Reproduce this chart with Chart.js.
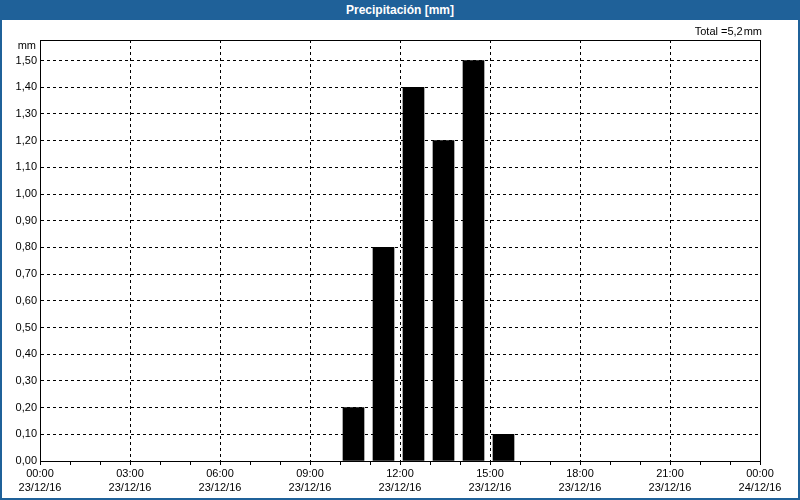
<!DOCTYPE html>
<html>
<head>
<meta charset="utf-8">
<script src="https://cdn.jsdelivr.net/npm/chart.js@4.4.1/dist/chart.umd.min.js"></script>
<style>
  html,body{margin:0;padding:0;background:#fff;}
  body{width:800px;height:500px;overflow:hidden;font-family:"Liberation Sans",Arial,sans-serif;}
  .win{position:absolute;left:0;top:0;width:796px;height:498px;border:2px solid #1f6199;border-top:none;background:#fff;}
  .bar{position:absolute;left:-2px;top:0;width:800px;height:20px;background:#1f6199;color:#fff;
       font:bold 12px "Liberation Sans",Arial,sans-serif;text-align:center;line-height:21px;}
  .wrap{position:absolute;left:0;top:20px;width:796px;height:478px;}
  .total{position:absolute;right:36px;top:25px;font-size:11px;color:#000;}
  .unit{position:absolute;right:762px;top:39px;font-size:11px;color:#000;}
</style>
</head>
<body>
<div class="win">
  <div class="bar">Precipitación [mm]</div>
  <div class="wrap"><canvas id="c" width="796" height="478"></canvas></div>
  <div class="total">Total =5,2&#8202;mm</div>
  <div class="unit">mm</div>
</div>
<script>
/* --- DATA --- */
// bar centres in hours since 23/12/16 00:00
const hours  = [10.45, 11.45, 12.45, 13.45, 14.45, 15.45];
const rain   = [0.2, 0.8, 1.4, 1.2, 1.5, 0.1];
const timeLbl = ['00:00','03:00','06:00','09:00','12:00','15:00','18:00','21:00','00:00'];
const dateLbl = ['23/12/16','23/12/16','23/12/16','23/12/16','23/12/16','23/12/16','23/12/16','23/12/16','24/12/16'];

const fnt = {family:'"Liberation Sans", Arial, sans-serif', size:11};

/* frame round the plot area (top and right sides) */
const frame = {
  id:'frame',
  afterDraw(c){
    const a = c.chartArea, x = c.ctx;
    x.save();
    x.strokeStyle = '#000'; x.lineWidth = 1;
    x.strokeRect(Math.round(a.left)+0.5, Math.round(a.top)+0.5, Math.round(a.right-a.left), Math.round(a.bottom-a.top));
    x.restore();
  }
};

new Chart(document.getElementById('c'), {
  type:'bar',
  data:{datasets:[{
    data:hours.map((h,i)=>({x:h, y:rain[i]})),
    backgroundColor:'#000',
    borderWidth:0,
    barThickness:21
  }]},
  options:{
    responsive:false, animation:false,
    layout:{padding:{left:0, right:38, top:20, bottom:0}},
    plugins:{legend:{display:false}, tooltip:{enabled:false}},
    scales:{
      x:{
        type:'linear', min:0, max:24, offset:false,
        afterFit:s=>{ s.height = 37; },
        border:{display:true, color:'#000', dash:[3,3]},
        grid:{
          offset:false,
          color:c=>(c.tick && c.tick.value%3===0 && c.tick.value>0 && c.tick.value<24) ? '#000' : 'rgba(0,0,0,0)',
          tickColor:'#000', tickLength:4, tickBorderDash:[], drawOnChartArea:true
        },
        ticks:{
          stepSize:1, autoSkip:false, maxRotation:0, color:'#000', padding:2,
          font:{...fnt, lineHeight:1.27},
          callback:v=> v%3===0 ? [timeLbl[v/3], dateLbl[v/3]] : ''
        }
      },
      y:{
        min:0, max:1.577,
        afterFit:s=>{ s.width = 38; },
        border:{display:true, color:'#000', dash:[3,3]},
        grid:{
          color:c=>(c.tick && c.tick.value>0.001) ? '#000' : 'rgba(0,0,0,0)',
          drawTicks:false
        },
        ticks:{
          stepSize:0.1, includeBounds:false, color:'#000', padding:3, font:fnt,
          callback:v=>v.toFixed(2).replace('.',',')
        }
      }
    }
  },
  plugins:[frame]
});
</script>
</body>
</html>
